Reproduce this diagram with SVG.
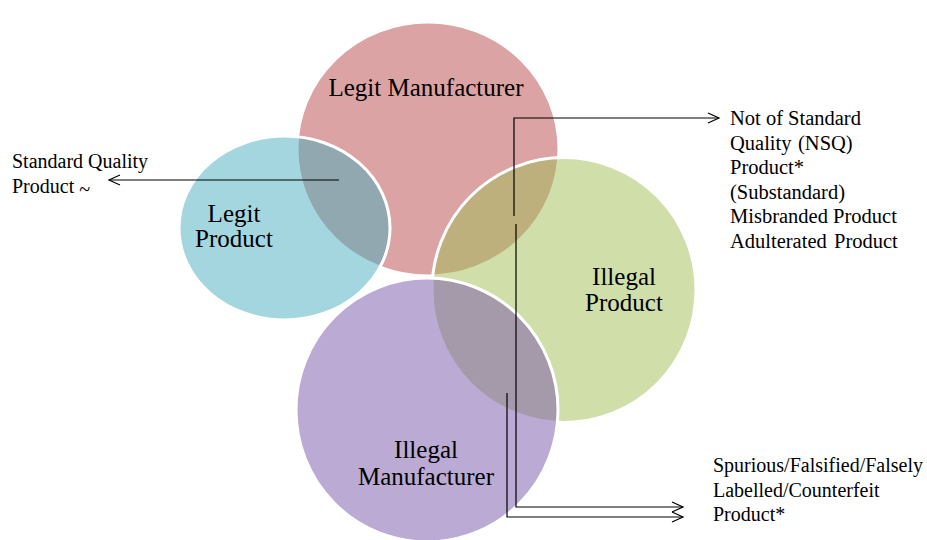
<svg xmlns="http://www.w3.org/2000/svg" width="927" height="540" viewBox="0 0 927 540">
<defs>
<style>
.t{font-family:"Liberation Serif","Times New Roman",serif;fill:#000}
.big{font-size:25px;text-anchor:middle}
.sm{font-size:20.5px}
.c{stroke:#fff;stroke-width:3;fill-opacity:0.5}
.ln{fill:none;stroke:#000;stroke-width:1.2}
</style>
<marker id="ah" markerUnits="userSpaceOnUse" viewBox="-13 -7 15 14" markerWidth="15" markerHeight="14" refX="0" refY="0" orient="auto">
<path d="M-11,-5 L0,0 L-11,5" fill="none" stroke="#000" stroke-width="1.2"/>
</marker>
</defs>
<rect width="927" height="540" fill="#fff"/>
<g id="legit-manufacturer">
<ellipse class="c" cx="428" cy="149" rx="131" ry="127" fill="#b74747"/>
<text class="t big" x="426" y="96">Legit Manufacturer</text>
</g>
<g id="legit-product">
<ellipse class="c" cx="284.5" cy="228" rx="105.5" ry="92" fill="#47adbf"/>
<text class="t big" x="234" y="222">Legit</text>
<text class="t big" x="234" y="247">Product</text>
</g>
<g id="illegal-product">
<ellipse class="c" cx="564" cy="290" rx="132" ry="132.5" fill="#a1bd55"/>
<text class="t big" x="624" y="285" font-size="24.5">Illegal</text>
<text class="t big" x="624" y="310.5" font-size="24.5">Product</text>
</g>
<g id="illegal-manufacturer">
<ellipse class="c" cx="427" cy="410" rx="131" ry="132" fill="#7755a7"/>
<text class="t big" x="426" y="458">Illegal</text>
<text class="t big" x="426" y="485">Manufacturer</text>
</g>
<g id="connectors">
<path class="ln" d="M339,180 H109" marker-end="url(#ah)"/>
<path class="ln" d="M514,216 V118 H719" marker-end="url(#ah)"/>
<path class="ln" d="M516,224 V507 H683" marker-end="url(#ah)"/>
<path class="ln" d="M507,393 V517 H683" stroke="#222" marker-end="url(#ah)"/>
</g>
<g id="standard-quality">
<text class="t" font-size="20" x="12" y="168">Standard Quality</text>
<text class="t" font-size="20" x="12" y="193">Product <tspan dy="3">~</tspan></text>
</g>
<g id="nsq-product">
<text class="t sm" x="730" y="125">Not of Standard</text>
<text class="t sm" x="730" y="149.5">Quality <tspan x="798">(NSQ)</tspan></text>
<text class="t sm" x="730" y="174">Product*</text>
<text class="t sm" x="730" y="198.5">(Substandard)</text>
<text class="t sm" x="730" y="223">Misbranded Product</text>
<text class="t sm" x="730" y="247.5">Adulterated <tspan x="834">Product</tspan></text>
</g>
<g id="spurious-product">
<text class="t" font-size="20" x="713" y="472">Spurious/Falsified/Falsely</text>
<text class="t" font-size="20" x="713" y="496.5">Labelled/Counterfeit</text>
<text class="t" font-size="20" x="713" y="521">Product*</text>
</g>
</svg>
